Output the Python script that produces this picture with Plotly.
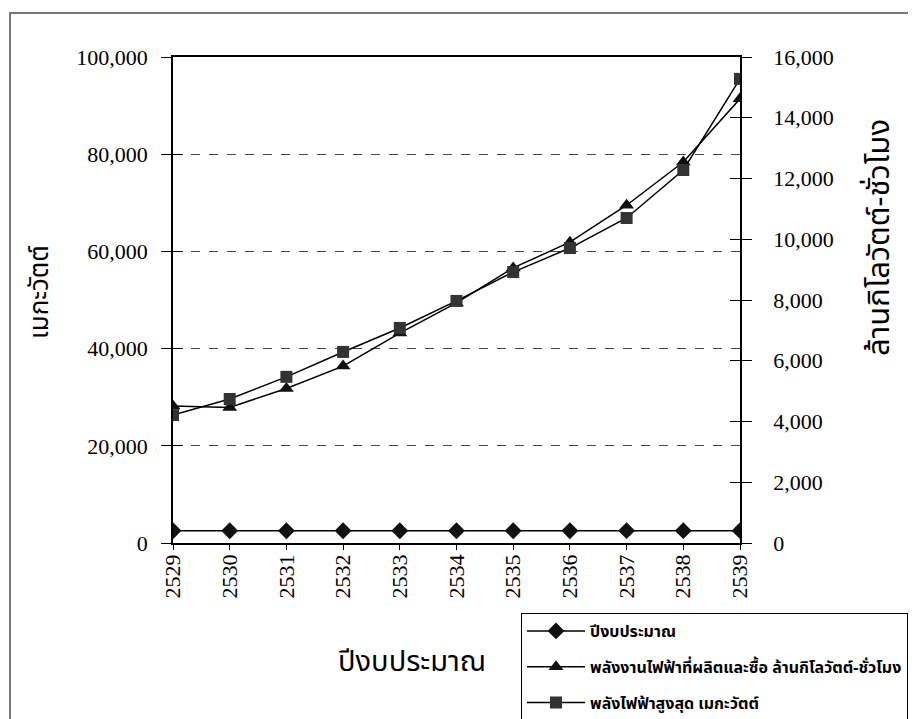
import plotly.graph_objects as go

years = ["2529", "2530", "2531", "2532", "2533", "2534", "2535", "2536", "2537", "2538", "2539"]
year_values = [2529, 2530, 2531, 2532, 2533, 2534, 2535, 2536, 2537, 2538, 2539]
energy = [28200, 27900, 31800, 36400, 43200, 49400, 56600, 61900, 69500, 78400, 91400]
peak = [4210, 4740, 5470, 6290, 7080, 7970, 8920, 9710, 10700, 12280, 15280]

left_ticks = [0, 20000, 40000, 60000, 80000, 100000]
right_ticks = [0, 2000, 4000, 6000, 8000, 10000, 12000, 14000, 16000]

name_year = "ปีงบประมาณ"
name_energy = "พลังงานไฟฟ้าที่ผลิตและซื้อ ล้านกิโลวัตต์-ชั่วโมง"
name_peak = "พลังไฟฟ้าสูงสุด เมกะวัตต์"
title_left = "เมกะวัตต์"
title_right = "ล้านกิโลวัตต์-ชั่วโมง"
title_x = "ปีงบประมาณ"

W, H = 916, 719
OFF = 8  # page body margin
# plot area in page pixels: x 173..740, y 57..543
PX0, PX1, PY0, PY1 = 173, 740, 57, 543
L, R = PX0 - OFF, W - (PX1 - OFF)
T, B = PY0 - OFF, H - (PY1 - OFF)
pw, ph = PX1 - PX0, PY1 - PY0


def px_x(px):
    return (px - PX0) / pw


def px_y(py):
    return (PY1 - py) / ph


serif = "Liberation Serif, Times New Roman, serif"
thai = "Noto Sans Thai, Loma, Garuda, Noto Sans, sans-serif"

fig = go.Figure()
fig.add_trace(go.Scatter(
    x=years, y=year_values, name=name_year, mode="lines+markers", legendgroup="a",
    line=dict(color="black", width=1.5),
    marker=dict(symbol="diamond", size=13, color="#111"),
))
fig.add_trace(go.Scatter(
    x=years, y=energy, name=name_energy, mode="lines+markers", legendgroup="b",
    line=dict(color="black", width=1.5),
    marker=dict(symbol="triangle-up", size=13, color="#111"),
))
fig.add_trace(go.Scatter(
    x=years, y=peak, name=name_peak, mode="lines+markers", yaxis="y2", legendgroup="c",
    line=dict(color="black", width=1.5),
    marker=dict(symbol="square", size=12, color="#333"),
))

fig.update_layout(
    width=W, height=H,
    margin=dict(l=L, r=R, t=T, b=B, autoexpand=False),
    paper_bgcolor="white", plot_bgcolor="white",
    showlegend=True,
    legend=dict(
        x=px_x(521), y=px_y(613), xanchor="left", yanchor="top",
        bordercolor="black", borderwidth=1, bgcolor="white",
        font=dict(family=thai, size=16, color="black", weight="bold"),
        tracegroupgap=12, itemwidth=58,
    ),
    xaxis=dict(
        type="category", range=[0, 10],
        showline=True, linecolor="black", linewidth=1.5, mirror=True,
        ticks="outside", ticklen=5, tickcolor="black",
        ticklabelstandoff=-4,
        tickangle=-90, tickfont=dict(family=serif, size=22, color="black"),
        showgrid=False, zeroline=False,
    ),
    yaxis=dict(
        range=[0, 100000], tickvals=left_ticks, tickformat=",",
        showline=True, linecolor="black", linewidth=1.5,
        ticks="outside", ticklen=10, tickcolor="black",
        ticklabelstandoff=9,
        tickfont=dict(family=serif, size=22, color="black"),
        showgrid=True, gridcolor="#444", griddash="dash", gridwidth=1,
        zeroline=False,
    ),
    yaxis2=dict(
        range=[0, 16000], tickvals=right_ticks, tickformat=",",
        overlaying="y", side="right", anchor="x",
        showline=True, linecolor="black", linewidth=1.5,
        ticks="outside", ticklen=10, tickcolor="black",
        ticklabelstandoff=17,
        tickfont=dict(family=serif, size=22, color="black"),
        showgrid=False, zeroline=False,
    ),
    yaxis3=dict(
        range=[0, 100000], tickvals=left_ticks, overlaying="y", side="left", anchor="x",
        ticks="inside", ticklen=10, tickcolor="black", showticklabels=False,
        showgrid=False, zeroline=False, showline=False,
    ),
    yaxis4=dict(
        range=[0, 16000], tickvals=right_ticks, overlaying="y", side="right", anchor="x",
        ticks="inside", ticklen=10, tickcolor="black", showticklabels=False,
        showgrid=False, zeroline=False, showline=False,
    ),
    annotations=[
        dict(text=title_left, xref="paper", yref="paper", x=px_x(40), y=px_y(292),
             xanchor="center", yanchor="middle",
             textangle=-90, showarrow=False, font=dict(family=thai, size=26, color="black")),
        dict(text=title_right, xref="paper", yref="paper", x=px_x(879), y=px_y(238),
             xanchor="center", yanchor="middle",
             textangle=-90, showarrow=False, font=dict(family=thai, size=31, color="black")),
        dict(text=title_x, xref="paper", yref="paper", x=px_x(412), y=px_y(662),
             xanchor="center", yanchor="middle",
             showarrow=False, font=dict(family=thai, size=29, color="black")),
    ],
    shapes=[
        dict(type="rect", xref="paper", yref="paper",
             x0=px_x(10), x1=px_x(940), y0=px_y(740), y1=px_y(13),
             line=dict(color="#777", width=2), fillcolor="rgba(0,0,0,0)", layer="below"),
    ],
)
# dummy traces for the overlay tick axes
fig.add_trace(go.Scatter(x=[years[0]], y=[None], yaxis="y3", showlegend=False, hoverinfo="skip"))
fig.add_trace(go.Scatter(x=[years[0]], y=[None], yaxis="y4", showlegend=False, hoverinfo="skip"))

fig.write_html("out.html")
